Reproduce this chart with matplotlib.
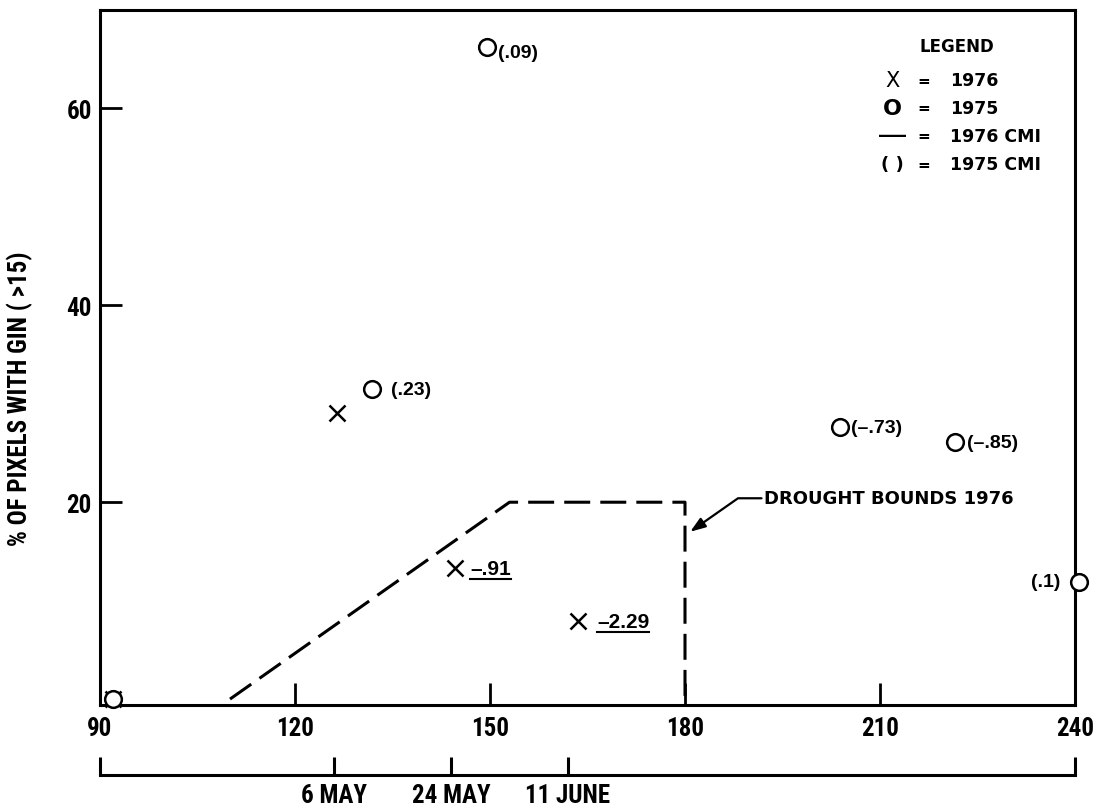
import matplotlib
matplotlib.use('Agg')
from matplotlib import pyplot as plt
from matplotlib import font_manager
from matplotlib.lines import Line2D

# Pick the narrowest sans face the system has for the axis numbers
installed = {f.name for f in font_manager.fontManager.ttflist}
narrow = 'DejaVu Sans'
for name in ['Liberation Sans Narrow', 'Roboto Condensed', 'Liberation Sans']:
    if name in installed:
        narrow = name
        break
plain = 'Liberation Sans' if 'Liberation Sans' in installed else 'DejaVu Sans'

# 1976 observations: day of year, % of pixels with GIN > 15, CMI
days_1976 = [92, 126.5, 144.6, 163.5]
pct_1976 = [0, 29.1, 13.3, 7.9]
cmi_1976 = ['', '', '–.91', '–2.29']

# 1975 observations: day of year, % of pixels, CMI
days_1975 = [92, 131.8, 149.5, 203.8, 221.5, 240.6]
pct_1975 = [0, 31.5, 66.2, 27.6, 26.1, 11.9]
cmi_1975 = ['', '(.23)', '(.09)', '(–.73)', '(–.85)', '(.1)']

# drought bounds curve for 1976
bound_days = [110, 153, 180, 180]
bound_pct = [0, 20, 20, 0]

x_ticks = [90, 120, 150, 180, 210, 240]
y_ticks = [20, 40, 60]
date_days = [90, 126, 144, 162, 240]
date_labels = ['', '6 MAY', '24 MAY', '11 JUNE', '']

# label offsets in points (dx, dy) for the CMI texts
dx_1976 = [0, 0, 11, 14]
dx_1975 = [0, 14, 8, 8, 9, -13]
dy_1975 = [0, 0, -4, 0, 0, 0]

fig = plt.figure(figsize=(10.98, 8.12), dpi=100)
ax = fig.add_axes([100 / 1098, 106 / 812, 975 / 1098, 695 / 812])

ax.set_xlim(90, 240)
ax.set_ylim(-0.6, 70)
for s in ax.spines.values():
    s.set_linewidth(2.2)

ax.set_xticks(x_ticks)
ax.set_yticks(y_ticks)
ax.tick_params(direction='in', length=16, width=2)
ax.tick_params(axis='x', pad=8, labelsize=18)
ax.tick_params(axis='y', pad=6, labelsize=18)
for lab in ax.get_xticklabels() + ax.get_yticklabels():
    lab.set_fontfamily(narrow)
    lab.set_fontweight('bold')

# drought bounds dashed curve
line, = ax.plot(bound_days, bound_pct, color='black', lw=2.2, clip_on=False)
line.set_dashes([8.5, 3.3])

# data points
ax.plot(days_1976, pct_1976, 'x', color='black', ms=12, mew=1.8, clip_on=False, zorder=5)
ax.plot(days_1975, pct_1975, 'o', mfc='white', mec='black', ms=12, mew=1.8, clip_on=False, zorder=5)

cmi_texts = []
for x, y, c, dx in zip(days_1976, pct_1976, cmi_1976, dx_1976):
    if c:
        t = ax.annotate(c, (x, y), xytext=(dx, 0), textcoords='offset points',
                        ha='left', va='center', fontsize=15, fontweight='bold', family=plain)
        cmi_texts.append(t)

for x, y, c, dx, dy in zip(days_1975, pct_1975, cmi_1975, dx_1975, dy_1975):
    if c:
        ax.annotate(c, (x, y), xytext=(dx, dy), textcoords='offset points',
                    ha='left' if dx > 0 else 'right', va='center', annotation_clip=False,
                    fontsize=14, fontweight='bold', family=plain)

# drought bounds label with arrow
ax.annotate('DROUGHT BOUNDS 1976', xy=(180.8, 17.0), xytext=(192.2, 20.4),
            ha='left', va='center', fontsize=13, fontweight='bold', family='DejaVu Sans',
            arrowprops=dict(arrowstyle='-|>,head_length=0.7,head_width=0.25', color='black',
                            lw=1.6, shrinkA=0, shrinkB=0, relpos=(0, 0.5),
                            connectionstyle='angle,angleA=0,angleB=35,rad=0'))

# legend block, written as text
lx_sym, lx_eq, lx_val = 0.813, 0.845, 0.872
ax.text(0.841, 0.948, 'LEGEND', transform=ax.transAxes, ha='left', va='center',
        fontsize=12, fontweight='bold', family='DejaVu Sans')
rows = [('X', '1976', 0.899), ('O', '1975', 0.859), ('___', '1976 CMI', 0.819), ('( )', '1975 CMI', 0.778)]
for sym, val, y in rows:
    if sym == 'O':
        ax.text(lx_sym, y, sym, transform=ax.transAxes, ha='center', va='center',
                fontsize=16, fontweight='bold', family='DejaVu Sans')
    elif sym == 'X':
        ax.text(lx_sym, y, sym, transform=ax.transAxes, ha='center', va='center',
                fontsize=15, family='DejaVu Sans')
    else:
        ax.text(lx_sym, y, sym, transform=ax.transAxes, ha='center',
                va='bottom' if sym == '___' else 'center',
                fontsize=13, fontweight='bold', family='DejaVu Sans')
    ax.text(lx_eq, y, '=', transform=ax.transAxes, ha='center', va='center',
            fontsize=11, fontweight='bold', family='DejaVu Sans')
    ax.text(lx_val, y, val, transform=ax.transAxes, ha='left', va='center',
            fontsize=12.5, fontweight='bold', family='DejaVu Sans')

# second date axis below the day axis
sec = ax.secondary_xaxis(-0.1)
sec.set_ticks(date_days, date_labels)
sec.tick_params(direction='in', length=13, width=2.2, pad=6, labelsize=18)
sec.spines['bottom'].set_linewidth(2.2)
for lab in sec.get_xticklabels():
    lab.set_fontfamily(narrow)
    lab.set_fontweight('bold')

fig.text(20 / 1098, 0.509, '% OF PIXELS WITH GIN ( >15)', rotation=90, ha='center', va='center',
         fontsize=18, fontweight='bold', family=narrow)

# underline the 1976 CMI values
fig.canvas.draw()
renderer = fig.canvas.get_renderer()
inv = fig.transFigure.inverted()
for t in cmi_texts:
    bb = t.get_window_extent(renderer)
    (x0, y0), (x1, _) = inv.transform([(bb.x0, bb.y0 - 1), (bb.x1, bb.y0)])
    fig.add_artist(Line2D([x0, x1], [y0, y0], color='black', lw=1.5, transform=fig.transFigure))

fig.savefig('out.png', dpi=100)
